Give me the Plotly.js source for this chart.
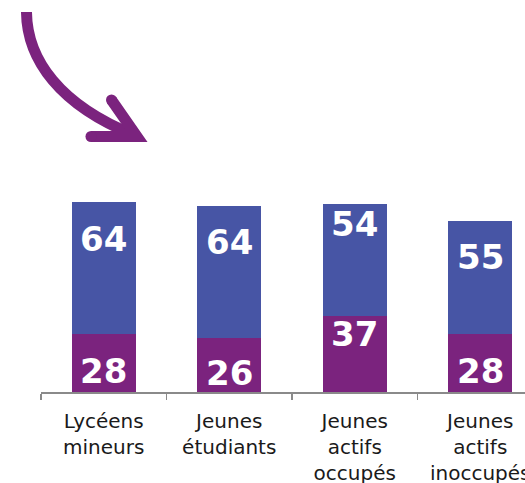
<!DOCTYPE html>
<html>
<head>
<meta charset="utf-8">
<script src="https://cdn.plot.ly/plotly-3.0.1.min.js"></script>
<style>
html,body{margin:0;padding:0;background:#fff;overflow:hidden;}
#chart{width:525px;height:483px;}
</style>
</head>
<body>
<div id="chart"></div>
<script>
// Data
var categories = ["Lycéens<br>mineurs", "Jeunes<br>étudiants", "Jeunes<br>actifs<br>occupés", "Jeunes<br>actifs<br>inoccupés"];
var purpleValues = [28, 26, 37, 28];
var blueValues = [64, 64, 54, 55];

var PURPLE = "#7B237E";
var BLUE = "#4755A5";

// label placement inside each segment (fraction of segment height from its base)
var purpleLabelFrac = [0.36, 0.35, 0.76, 0.36];
var blueLabelFrac = [0.72, 0.73, 0.82, 0.68];

var traces = [
  {type: "bar", x: categories, y: purpleValues, marker: {color: PURPLE}, hoverinfo: "none"},
  {type: "bar", x: categories, y: blueValues, marker: {color: BLUE}, hoverinfo: "none"}
];

var labelFont = {family: "DejaVu Sans", size: 34, color: "#ffffff", weight: "bold"};
var annotations = [];
categories.forEach(function (c, i) {
  annotations.push({
    x: c, y: purpleValues[i] * purpleLabelFrac[i], xref: "x", yref: "y",
    text: "<b>" + purpleValues[i] + "</b>", showarrow: false, font: labelFont
  });
  annotations.push({
    x: c, y: purpleValues[i] + blueValues[i] * blueLabelFrac[i], xref: "x", yref: "y",
    text: "<b>" + blueValues[i] + "</b>", showarrow: false, font: labelFont
  });
});

// Arrow (drawn in pixel-like coords converted to paper)
var L = 41, PW = 484, PH = 392;
function px(x) { return ((x - L) / PW).toFixed(4); }
function py(y) { return ((PH - y) / PH).toFixed(4); }
var shaft = "M " + px(26.5) + "," + py(12) +
  " C " + px(27) + "," + py(60) + " " + px(60) + "," + py(105) + " " + px(134) + "," + py(135);
var head = "M " + px(111.5) + "," + py(100) + " L " + px(137) + "," + py(136.5) + " L " + px(91) + "," + py(136.5);

var shapes = [
  {type: "path", xref: "paper", yref: "paper", path: shaft, line: {color: PURPLE, width: 11}},
  {type: "path", xref: "paper", yref: "paper", path: head, line: {color: PURPLE, width: 11}},
  {type: "circle", xref: "paper", yref: "paper", fillcolor: PURPLE, line: {width: 0},
    x0: px(111.5 - 5.5), x1: px(111.5 + 5.5), y0: py(100 + 5.5), y1: py(100 - 5.5)},
  {type: "circle", xref: "paper", yref: "paper", fillcolor: PURPLE, line: {width: 0},
    x0: px(91 - 5.5), x1: px(91 + 5.5), y0: py(136.5 + 5.5), y1: py(136.5 - 5.5)}
];

var layout = {
  width: 525, height: 483,
  margin: {l: L, r: 0, t: 0, b: 483 - PH},
  barmode: "stack",
  bargap: 0.49,
  showlegend: false,
  paper_bgcolor: "#ffffff",
  plot_bgcolor: "#ffffff",
  xaxis: {
    type: "category",
    range: [-0.5, -0.5 + PW / 125.5],
    showline: true, linecolor: "#8a8a8a", linewidth: 1.5,
    ticks: "outside", tickson: "boundaries", ticklen: 6, tickcolor: "#8a8a8a", tickwidth: 1.5,
    ticklabelstandoff: 10,
    tickfont: {family: "DejaVu Sans", size: 20, color: "#1a1a1a"},
    showgrid: false, zeroline: false, fixedrange: true
  },
  yaxis: {
    range: [0, PH / 2.065],
    visible: false, showgrid: false, zeroline: false, fixedrange: true
  },
  annotations: annotations,
  shapes: shapes
};

Plotly.newPlot("chart", traces, layout, {displayModeBar: false, staticPlot: true});
</script>
</body>
</html>
